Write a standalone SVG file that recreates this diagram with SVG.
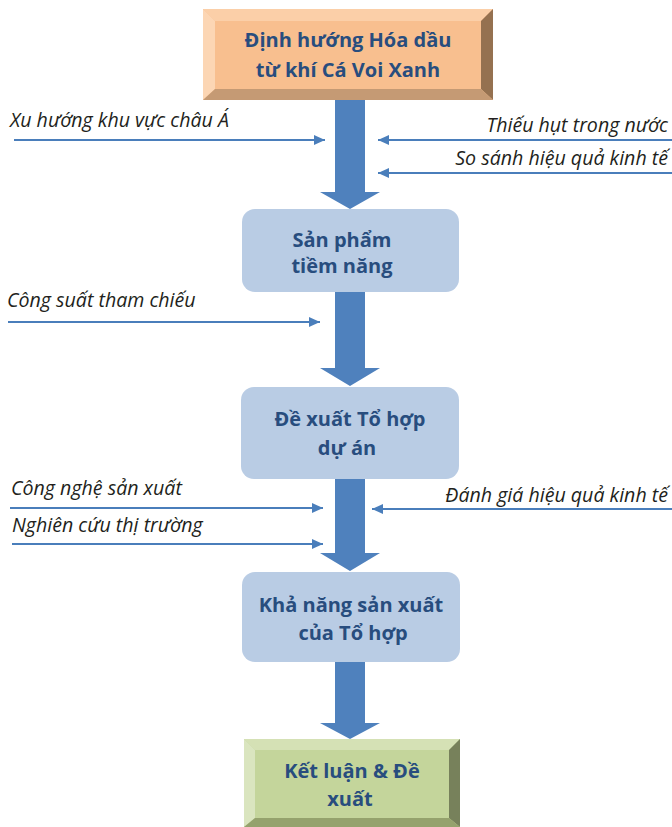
<svg xmlns="http://www.w3.org/2000/svg" width="672" height="827" viewBox="0 0 672 827">
<defs>
<style>
.bt{font-family:"Open Sans","Noto Sans",sans-serif;font-weight:bold;font-size:20px;fill:#284d7e;text-anchor:middle}
.lb{font-family:"Open Sans","Noto Sans",sans-serif;font-style:italic;font-size:19.6px;fill:#231f20}
.rt{text-anchor:end}
.sl{stroke:#4a7ebb;stroke-width:2;fill:none;marker-end:url(#ah)}
.big{fill:#4f81bd}
.rb{fill:#b9cce4}
</style>
<marker id="ah" markerUnits="userSpaceOnUse" markerWidth="12" markerHeight="10" refX="11" refY="5" orient="auto">
<path d="M0,0 L11,5 L0,10 Z" fill="#4a7ebb"/>
</marker>
</defs>
<rect width="672" height="827" fill="#ffffff"/>

<g id="connectors">
<path class="big" d="M335,97 H365 V192 H380 L350,209 L320,192 H335 Z"/>
<path class="big" d="M335,292 H365 V368 H380 L350,386 L320,368 H335 Z"/>
<path class="big" d="M335,478 H365 V553 H380 L350,571 L320,553 H335 Z"/>
<path class="big" d="M335,662 H365 V723 H380 L350,739 L320,723 H335 Z"/>
<line class="sl" x1="14" y1="140" x2="325" y2="140"/>
<line class="sl" x1="672" y1="140" x2="378" y2="140"/>
<line class="sl" x1="672" y1="173" x2="378" y2="173"/>
<line class="sl" x1="8" y1="322" x2="320" y2="322"/>
<line class="sl" x1="10" y1="508" x2="323" y2="508"/>
<line class="sl" x1="12" y1="544" x2="323" y2="544"/>
<line class="sl" x1="672" y1="509" x2="372" y2="509"/>
<text class="lb" x="10" y="127">Xu hướng khu vực châu Á</text>
<text class="lb rt" x="668" y="132">Thiếu hụt trong nước</text>
<text class="lb rt" x="668" y="165">So sánh hiệu quả kinh tế</text>
<text class="lb" x="7" y="307">Công suất tham chiếu</text>
<text class="lb" x="11" y="495">Công nghệ sản xuất</text>
<text class="lb" x="12" y="532">Nghiên cứu thị trường</text>
<text class="lb rt" x="668" y="502">Đánh giá hiệu quả kinh tế</text>
</g>

<g id="n1">
<rect x="203" y="9" width="290" height="91" fill="#f8bf8f"/>
<path d="M203,9 H493 L481,21 H215 Z" fill="#fbcfa8"/>
<path d="M203,9 L215,21 V89 L203,100 Z" fill="#fcd6b4"/>
<path d="M493,9 V100 L481,89 V21 Z" fill="#957150"/>
<path d="M203,100 H493 L481,89 H215 Z" fill="#c59a74"/>
<text class="bt" x="348" y="47">Định hướng Hóa dầu</text>
<text class="bt" x="348" y="77">từ khí Cá Voi Xanh</text>
</g>

<g id="n2">
<rect class="rb" x="242" y="209" width="217" height="83" rx="13"/>
<text class="bt" x="342" y="247">Sản phẩm</text>
<text class="bt" x="342" y="273">tiềm năng</text>
</g>

<g id="n3">
<rect class="rb" x="241" y="387" width="218" height="92" rx="13"/>
<text class="bt" x="350" y="426">Đề xuất Tổ hợp</text>
<text class="bt" x="347" y="455">dự án</text>
</g>

<g id="n4">
<rect class="rb" x="242" y="572" width="218" height="90" rx="13"/>
<text class="bt" x="351" y="612">Khả năng sản xuất</text>
<text class="bt" x="353" y="640">của Tổ hợp</text>
</g>

<g id="n5">
<rect x="244" y="739" width="216" height="88" fill="#c4d59b"/>
<path d="M244,739 H460 L449,750 H255 Z" fill="#d5e1b5"/>
<path d="M244,739 L255,750 V818 L244,827 Z" fill="#dae5bf"/>
<path d="M460,739 V827 L449,818 V750 Z" fill="#77815b"/>
<path d="M244,827 H460 L449,818 H255 Z" fill="#95a26d"/>
<text class="bt" x="352" y="778">Kết luận &amp; Đề</text>
<text class="bt" x="350" y="806">xuất</text>
</g>
</svg>
